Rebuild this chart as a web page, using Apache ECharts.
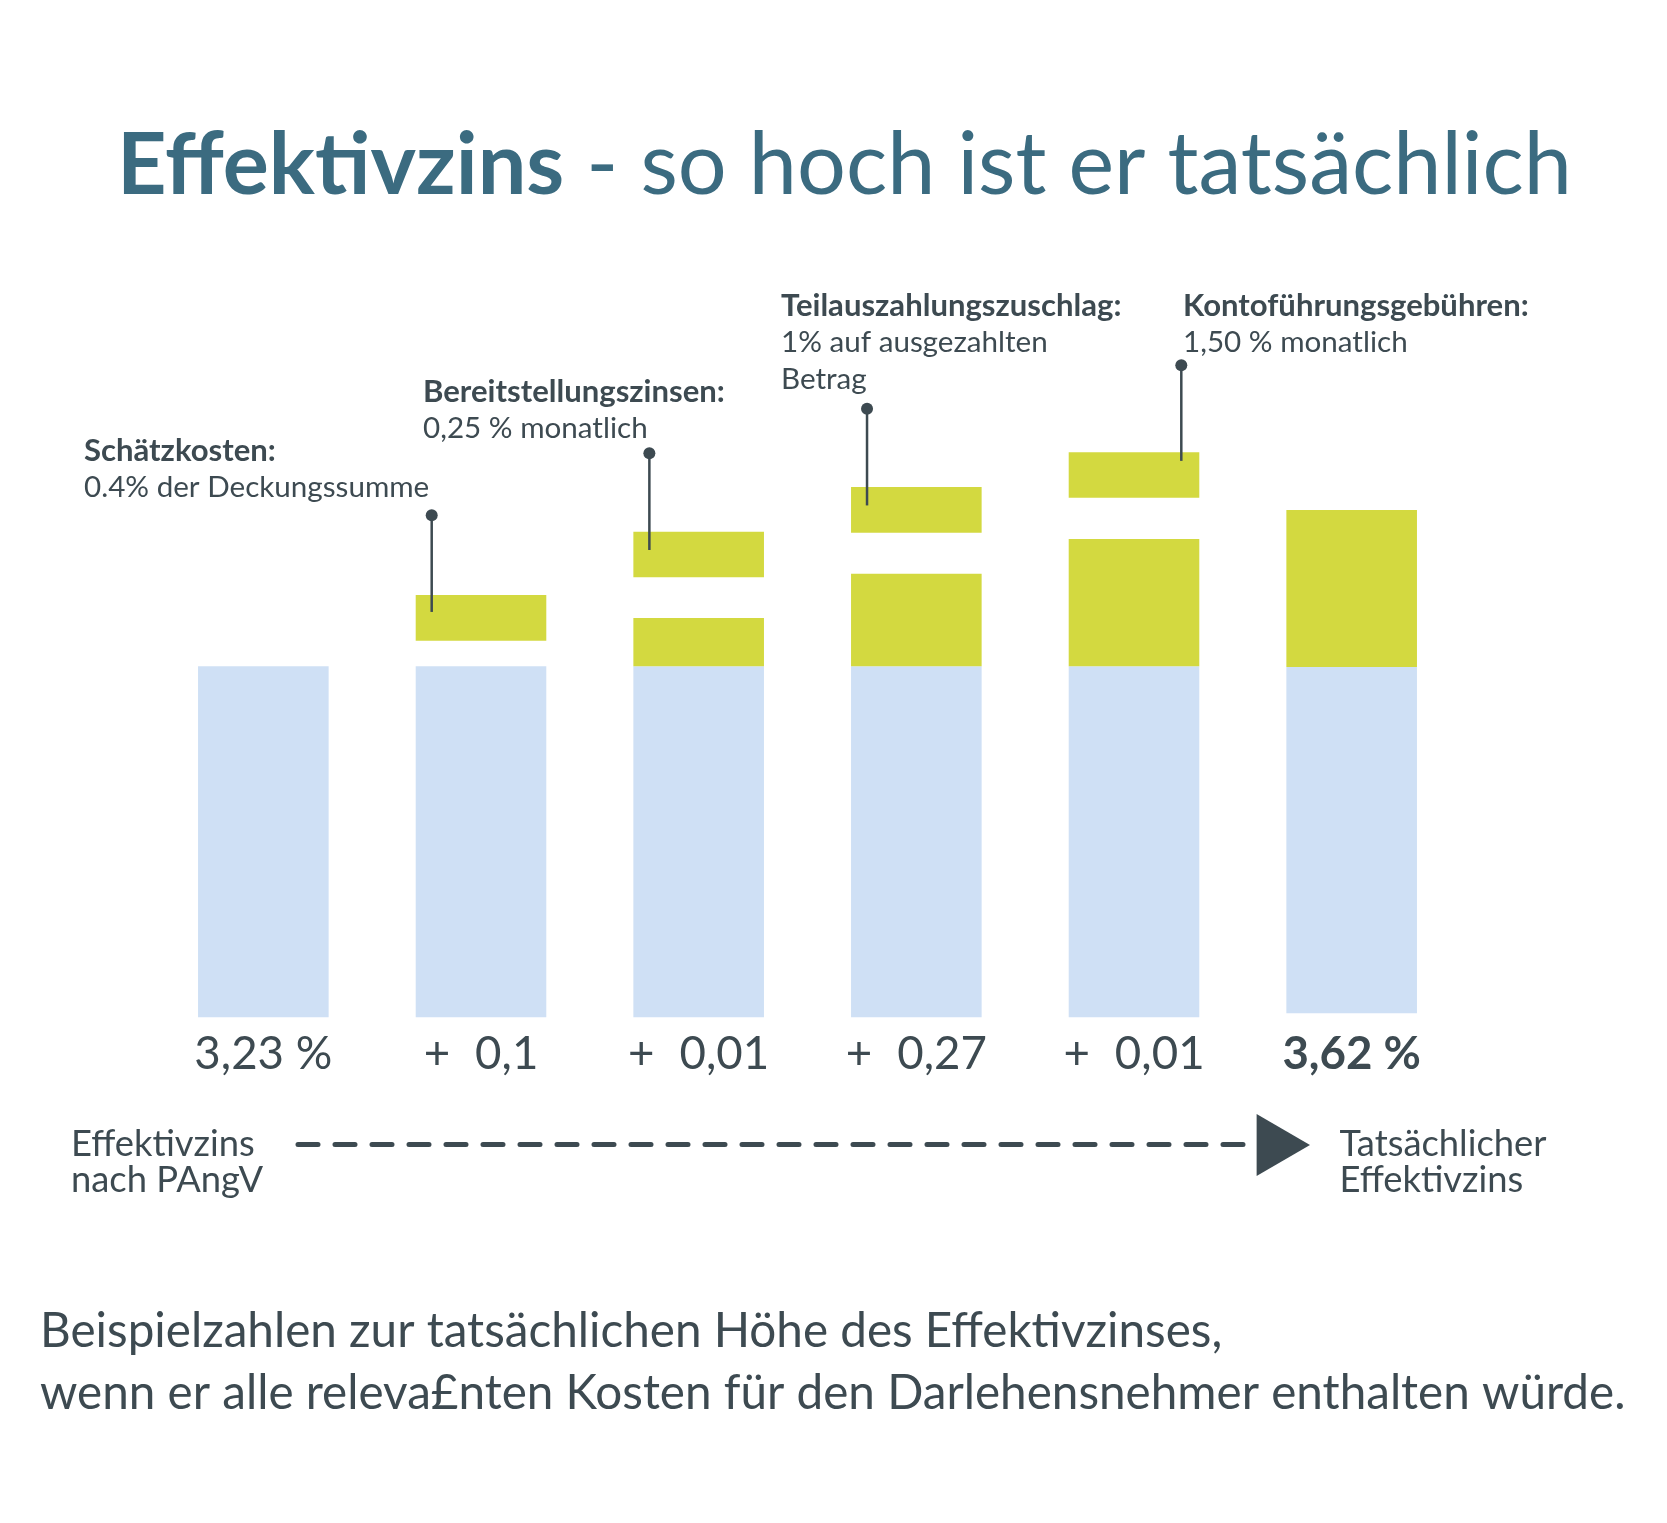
<!DOCTYPE html>
<html><head><meta charset="utf-8">
<script src="https://cdn.jsdelivr.net/npm/echarts@6/dist/echarts.min.js"></script>
<style>html,body{margin:0;padding:0;background:#fff}#c{width:1667px;height:1523px}</style>
</head><body><div id="c"></div>
<script>
// ---- data ----
const categories = ['Effektivzins nach PAngV','Schätzkosten','Bereitstellungszinsen','Teilauszahlungszuschlag','Kontoführungsgebühren','Tatsächlicher Effektivzins'];
const rateLabels = ['3,23 %','0,1','0,01','0,27','0,01','3,62 %'];
const isAddition = [false,true,true,true,true,false];
// bar segment heights as drawn in the picture (unit: % scale where base = 3,23)
const offsetSeg = [0,0,0,0,0,0.037];
const baseSeg   = [3.23,3.23,3.23,3.23,3.23,3.187];
const accumSeg  = [0,0,0.445,0.852,1.17,1.445];
const gapSeg    = [0,0.236,0.375,0.377,0.38,0];
const newSeg    = [0,0.42,0.417,0.42,0.42,0];
// leader lines (value at line bottom / dot)
const leaderBottom = [null,3.73,4.30,4.71,5.12,null];
const leaderTop    = [null,4.62,5.19,5.60,6.00,null];
const leaderSide   = [null,'left','left','left','right',null];
// annotations
const annotTitles = ['Schätzkosten:','Bereitstellungszinsen:','Teilauszahlungszuschlag:','Kontoführungsgebühren:'];
const annotLines  = [['0.4% der Deckungssumme'],['0,25 % monatlich'],['1% auf ausgezahlten','Betrag'],['1,50 % monatlich']];
const titleBold = 'Effektivzins';
const titleRest = ' - so hoch ist er tatsächlich';
const fromLabel = ['Effektivzins','nach PAngV'];
const toLabel = ['Tatsächlicher','Effektivzins'];
const footLines = ['Beispielzahlen zur tatsächlichen Höhe des Effektivzinses,','wenn er alle releva£nten Kosten für den Darlehensnehmer enthalten würde.'];

// ---- styling helpers ----
const FONT = 'Lato';
const TXT = '#3d4a51';
const TITLE = '#3b6b80';
const BLUE = '#cfe0f5';
const GREEN = '#d3d940';
const mctx = document.createElement('canvas').getContext('2d');
function textW(text, weight, size){ mctx.font = weight+' '+size+'px '+FONT; return mctx.measureText(text).width; }
function fitSize(text, weight, width){ return 100*width/textW(text, weight, 100); }

const sAnnB = fitSize('Teilauszahlungszuschlag:','bold',340.6);
const sAnnR = fitSize('0.4% der Deckungssumme','normal',345.5);
const sLbl  = fitSize('3,23 %','normal',138);
const sArr  = fitSize('Tatsächlicher','normal',207);
const sFoot = fitSize(footLines[1],'normal',1586);
const sTitle = 100*1455/(textW(titleBold,'bold',100)+textW(titleRest,'normal',100));

const chart = echarts.init(document.getElementById('c'), null, {renderer:'canvas'});

const graphics = [];
function txt(x, y, text, size, weight, color){
  graphics.push({type:'text', x:x, y:y, style:{text:text, font: weight+' '+size+'px '+FONT, fill:color||TXT, textVerticalAlign:'middle', verticalAlign:'middle', align:'left'}});
}
// title
txt(117, 166, titleBold, sTitle, 'bold', TITLE);
txt(117 + textW(titleBold,'bold',sTitle), 166, titleRest, sTitle, 'normal', TITLE);
// annotations
const annPos = [[84,451],[423,392],[781,306],[1183,306]];
const LS = 36.8;
annotTitles.forEach((t,i)=>{
  const [x,y] = annPos[i];
  txt(x, y, t, sAnnB, 'bold');
  annotLines[i].forEach((l,j)=> txt(x, y + LS*(j+1), l, sAnnR, 'normal'));
});
// arrow row
fromLabel.forEach((l,j)=> txt(71, 1144 + 36*j, l, sArr, 'normal'));
toLabel.forEach((l,j)=> txt(1339.5, 1144 + 36*j, l, sArr, 'normal'));
graphics.push({type:'line', shape:{x1:298,y1:1144.6,x2:1250,y2:1144.6}, style:{stroke:TXT, lineWidth:5, lineDash:[20,17], lineCap:'round'}});
graphics.push({type:'polygon', shape:{points:[[1256.6,1114],[1256.6,1176],[1310,1145]]}, style:{fill:TXT}});
// footnote
footLines.forEach((l,j)=> txt(40, 1332 + 62*j, l, sFoot, 'normal'));

function barSeries(name, data, color){
  return {name:name, type:'bar', stack:'s', barWidth:'60%', data:data, silent:true,
    itemStyle:{color:color}, emphasis:{disabled:true}};
}
const leaderData = [];
for (let i=0;i<categories.length;i++){ if (leaderTop[i]!=null) leaderData.push([i, leaderBottom[i], leaderTop[i]]); }

chart.setOption({
  animation:false,
  backgroundColor:'#ffffff',
  grid:{left:154.5, right:206.5, top:310.9, bottom:505.7},
  xAxis:{type:'category', data:categories,
    axisLine:{show:false}, axisTick:{show:false}, splitLine:{show:false},
    axisLabel:{interval:0, margin:14,
      formatter:function(v, idx){
        if (isAddition[idx]) return '{p|+}{n|'+rateLabels[idx]+'}';
        if (idx===categories.length-1) return '{b|'+rateLabels[idx]+'}';
        return '{n|'+rateLabels[idx]+'}';
      },
      rich:{
        p:{fontFamily:FONT, fontSize:sLbl, color:TXT, padding:[0,25,0,0], lineHeight:sLbl},
        n:{fontFamily:FONT, fontSize:sLbl, color:TXT, lineHeight:sLbl},
        b:{fontFamily:FONT, fontSize:sLbl, color:TXT, fontWeight:'bold', lineHeight:sLbl}
      }}},
  yAxis:{type:'value', min:0, max:6.5, show:false},
  series:[
    barSeries('offset', offsetSeg, 'rgba(0,0,0,0)'),
    barSeries('Effektivzins', baseSeg, BLUE),
    barSeries('bisherige Kosten', accumSeg, GREEN),
    barSeries('gap', gapSeg, 'rgba(0,0,0,0)'),
    barSeries('neue Kosten', newSeg, GREEN),
    {type:'custom', silent:true, z:10, clip:false, data:leaderData,
      encode:{x:0, y:[1,2]},
      renderItem:function(params, api){
        const i = api.value(0);
        const pb = api.coord([i, api.value(1)]);
        const pt = api.coord([i, api.value(2)]);
        const half = api.size([1,0])[0]*0.6/2;
        const x = leaderSide[i]==='right' ? pb[0]+half-18 : pb[0]-half+16;
        return {type:'group', children:[
          {type:'line', shape:{x1:x,y1:pt[1],x2:x,y2:pb[1]}, style:{stroke:TXT, lineWidth:2.5}},
          {type:'circle', shape:{cx:x, cy:pt[1], r:6}, style:{fill:TXT}}
        ]};
      }}
  ],
  graphic:graphics
});
</script></body></html>
